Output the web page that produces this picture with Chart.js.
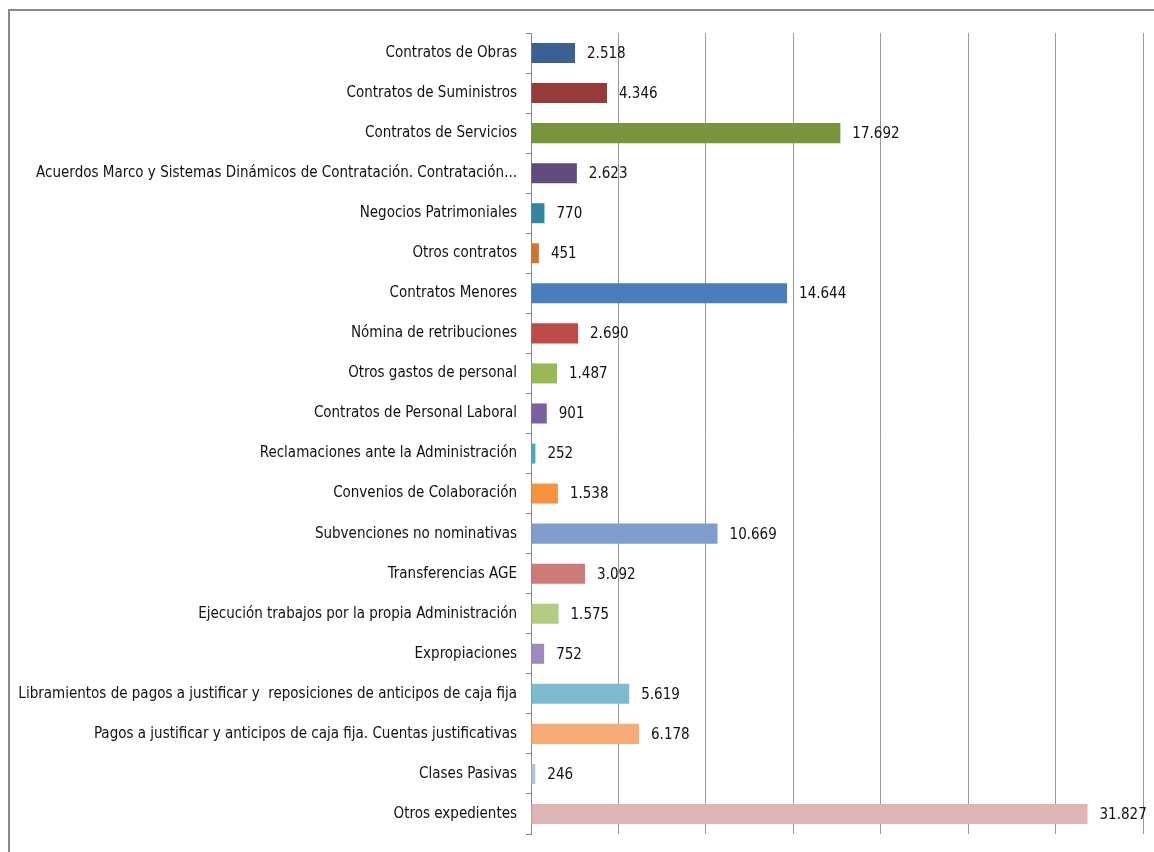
<!DOCTYPE html>
<html>
<head>
<meta charset="utf-8">
<script src="https://cdn.jsdelivr.net/npm/chart.js@4.4.1/dist/chart.umd.min.js"></script>
<style>
  html, body { margin: 0; padding: 0; background: #fff; }
  #wrap { position: relative; width: 1154px; height: 852px; overflow: hidden; }
  canvas { display: block; }
</style>
</head>
<body>
<div id="wrap"><canvas id="c" width="1154" height="852"></canvas></div>
<script>
const categories = [
  "Contratos de Obras",
  "Contratos de Suministros",
  "Contratos de Servicios",
  "Acuerdos Marco y Sistemas Dinámicos de Contratación. Contratación...",
  "Negocios Patrimoniales",
  "Otros contratos",
  "Contratos Menores",
  "Nómina de retribuciones",
  "Otros gastos de personal",
  "Contratos de Personal Laboral",
  "Reclamaciones ante la Administración",
  "Convenios de Colaboración",
  "Subvenciones no nominativas",
  "Transferencias AGE",
  "Ejecución trabajos por la propia Administración",
  "Expropiaciones",
  "Libramientos de pagos a justificar y  reposiciones de anticipos de caja fija",
  "Pagos a justificar y anticipos de caja fija. Cuentas justificativas",
  "Clases Pasivas",
  "Otros expedientes"
];
const values = [2518, 4346, 17692, 2623, 770, 451, 14644, 2690, 1487, 901, 252, 1538, 10669, 3092, 1575, 752, 5619, 6178, 246, 31827];
const barColors = [
  "#3B6093", "#963B39", "#78943D", "#614B7C", "#32869D", "#CE7531",
  "#4A7EBB", "#BE4B48", "#98B954", "#7D60A0", "#46AAC5", "#F69240",
  "#7F9ECB", "#CD7B79", "#B3CC82", "#9F8AC0", "#7DBBD0", "#F8AB76",
  "#B4C4DE", "#DEB5B4"
];
const xTicksMax = 35000;
const xTickStep = 5000;

// pick an installed narrow font
function pickFont() {
  const c = document.createElement('canvas').getContext('2d');
  const s = categories[16];
  c.font = "20px monospace"; const mono = c.measureText(s).width;
  c.font = "20px serif"; const serif = c.measureText(s).width;
  const cands = ['Liberation Sans Narrow', 'DejaVu Sans Condensed'];
  for (const f of cands) {
    c.font = "20px '" + f + "', monospace"; const a = c.measureText(s).width;
    c.font = "20px '" + f + "', serif"; const b = c.measureText(s).width;
    if (a !== mono || b !== serif) return f;
  }
  return 'DejaVu Sans Condensed';
}
const FAMILY = pickFont();
const FONT = "'" + FAMILY + "', sans-serif";
const FSIZE = (function () {
  const c = document.createElement('canvas').getContext('2d');
  c.font = "20px " + FONT;
  const w = c.measureText(categories[16]).width;
  return Math.round(20 * 497 / w * 10) / 10;
})();

function fmt(v) {
  return String(v).replace(/\B(?=(\d{3})+(?!\d))/g, ".");
}

const framePlugin = {
  id: 'frame',
  beforeDraw(chart) {
    const ctx = chart.ctx;
    ctx.save();
    ctx.fillStyle = '#fff';
    ctx.fillRect(0, 0, chart.width, chart.height);
    ctx.fillStyle = '#888888';
    ctx.fillRect(8, 9, chart.width - 8, 2);
    ctx.fillRect(8, 9, 2, chart.height - 9);
    ctx.restore();
  }
};

const valueLabels = {
  id: 'valueLabels',
  afterDatasetsDraw(chart) {
    const ctx = chart.ctx;
    const meta = chart.getDatasetMeta(0);
    ctx.save();
    ctx.font = FSIZE + "px " + FONT;
    ctx.fillStyle = '#111';
    ctx.textAlign = 'left';
    ctx.textBaseline = 'middle';
    meta.data.forEach((bar, i) => {
      ctx.fillText(fmt(values[i]), bar.x + 12, bar.y + 1);
    });
    ctx.restore();
  }
};

new Chart(document.getElementById('c'), {
  type: 'bar',
  data: {
    labels: categories,
    datasets: [{
      data: values,
      backgroundColor: barColors,
      borderWidth: 0,
      barPercentage: 0.5,
      categoryPercentage: 1.0
    }]
  },
  options: {
    indexAxis: 'y',
    responsive: false,
    animation: false,
    layout: { padding: { top: 33, right: 11, bottom: 16, left: 0 } },
    plugins: { legend: { display: false }, tooltip: { enabled: false } },
    scales: {
      x: {
        min: 0, max: xTicksMax,
        afterFit(scale) { scale.height = 0; },
        ticks: { display: false, stepSize: xTickStep },
        grid: { color: '#9a9a9a', lineWidth: 1, drawTicks: false },
        border: { display: false }
      },
      y: {
        afterFit(scale) { scale.width = 531; },
        ticks: {
          color: '#111',
          font: { family: FONT, size: FSIZE },
          padding: 9,
          autoSkip: false
        },
        grid: { offset: true, drawOnChartArea: false, drawTicks: true, tickLength: 5, color: '#888' },
        border: { display: true, color: '#888', width: 1 }
      }
    }
  },
  plugins: [framePlugin, valueLabels]
});
</script>
</body>
</html>
